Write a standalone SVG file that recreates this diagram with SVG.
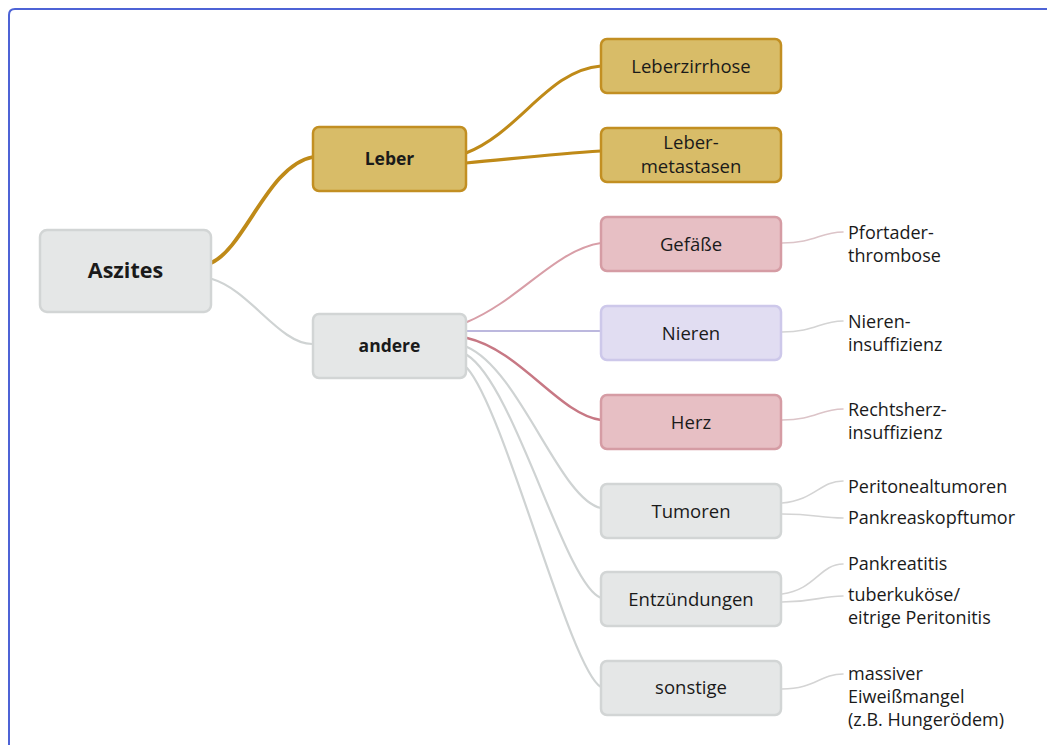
<svg xmlns="http://www.w3.org/2000/svg" width="1047" height="745" viewBox="0 0 1047 745">
<defs>
<style>
.box rect{stroke-width:2.5}
.gold rect{fill:#d8bc68;stroke:#c28f22}
.gray rect{fill:#e5e7e7;stroke:#d2d5d5}
.pink rect{fill:#e7bfc4;stroke:#d59ca4}
.lav rect{fill:#e1ddf2;stroke:#cdc8ea}
text{font-family:"Open Sans","Noto Sans","Liberation Sans",sans-serif;fill:#1a1a1a}
.b{font-weight:bold;text-anchor:middle}
.n{font-size:18.5px;text-anchor:middle}
.r{font-size:18px}
.c path{fill:none;stroke-linecap:round}
.cg{stroke:#bf8a18}
.cy{stroke:#cfd3d3;stroke-width:2.2}
.cp{stroke:#d89ea7;stroke-width:2}
.cr{stroke:#c77884;stroke-width:2.4}
.cl{stroke:#bcb8de;stroke-width:1.8}
.cs{stroke:#d4d4d4;stroke-width:1.6}
.csp{stroke:#dcc4c8;stroke-width:1.6}
</style>
</defs>
<rect x="0" y="0" width="1047" height="745" fill="#ffffff"/>
<path d="M9,745 L9,15 Q9,9 15,9 L1047,9" fill="none" stroke="#4d63d6" stroke-width="2"/>
<g id="connectors" class="c">
<path class="cg" d="M211,263 C245,248 268,165 313,157" stroke-width="3.8"/>
<path class="cy" d="M212,279 C250,290 280,345 313,344" stroke-width="2.6"/>
<path class="cg" d="M466,153 C520,132 548,70 601,66" stroke-width="3"/>
<path class="cg" d="M466,163 C520,158 555,154 601,151" stroke-width="3.2"/>
<path class="cp" d="M467,322 C520,300 555,250 601,243"/>
<path class="cl" d="M467,331 L601,331"/>
<path class="cr" d="M467,338 C520,350 560,415 601,420"/>
<path class="cy" d="M467,347 C520,370 560,500 601,508"/>
<path class="cy" d="M467,355 C515,385 565,585 601,598"/>
<path class="cy" d="M467,368 C505,410 570,670 601,687"/>
<path class="csp" d="M782,243 C815,243 820,232 843,232"/>
<path class="cs" d="M782,332 C815,332 820,321 843,321"/>
<path class="csp" d="M782,420 C815,420 820,409 843,409"/>
<path class="cs" d="M782,503 C815,500 820,481 843,481"/>
<path class="cs" d="M782,514 C815,514 820,518 843,518"/>
<path class="cs" d="M782,594 C815,590 820,564 843,564"/>
<path class="cs" d="M782,602 C815,602 820,596 843,596"/>
<path class="cs" d="M782,689 C815,689 820,674 843,674"/>
</g>
<g id="aszites" class="box gray"><rect x="40" y="230" width="171" height="82" rx="7"/><text class="b" x="125.5" y="278" font-size="21.5">Aszites</text></g>
<g id="leber" class="box gold"><rect x="313" y="127" width="153" height="64" rx="6"/><text class="b" x="389.5" y="165" font-size="17.5">Leber</text></g>
<g id="andere" class="box gray"><rect x="313" y="314" width="153" height="64" rx="6"/><text class="b" x="389.5" y="352" font-size="17.5">andere</text></g>
<g id="leberzirrhose" class="box gold"><rect x="601" y="39" width="180" height="54" rx="6"/><text class="n" x="691" y="73">Leberzirrhose</text></g>
<g id="lebermetastasen" class="box gold"><rect x="601" y="128" width="180" height="54" rx="6"/><text class="n" x="691" y="149" font-size="17.5">Leber-</text><text class="n" x="691" y="173" font-size="17.5">metastasen</text></g>
<g id="gefaesse" class="box pink"><rect x="601" y="217" width="180" height="54" rx="6"/><text class="n" x="691" y="250.5">Gefäße</text></g>
<g id="nieren" class="box lav"><rect x="601" y="306" width="180" height="54" rx="6"/><text class="n" x="691" y="339.5">Nieren</text></g>
<g id="herz" class="box pink"><rect x="601" y="395" width="180" height="54" rx="6"/><text class="n" x="691" y="428.5">Herz</text></g>
<g id="tumoren" class="box gray"><rect x="601" y="484" width="180" height="54" rx="6"/><text class="n" x="691" y="517.5">Tumoren</text></g>
<g id="entzuendungen" class="box gray"><rect x="601" y="572" width="180" height="54" rx="6"/><text class="n" x="691" y="605.5">Entzündungen</text></g>
<g id="sonstige" class="box gray"><rect x="601" y="661" width="180" height="54" rx="6"/><text class="n" x="691" y="694">sonstige</text></g>
<g id="pfortader"><text class="r" x="848" y="239">Pfortader-</text><text class="r" x="848" y="262">thrombose</text></g>
<g id="niereninsuffizienz"><text class="r" x="848" y="328">Nieren-</text><text class="r" x="848" y="351">insuffizienz</text></g>
<g id="rechtsherz"><text class="r" x="848" y="416">Rechtsherz-</text><text class="r" x="848" y="439">insuffizienz</text></g>
<g id="peritonealtumoren"><text class="r" x="848" y="493">Peritonealtumoren</text></g>
<g id="pankreaskopftumor"><text class="r" x="848" y="524">Pankreaskopftumor</text></g>
<g id="pankreatitis"><text class="r" x="848" y="570">Pankreatitis</text></g>
<g id="peritonitis"><text class="r" x="848" y="601">tuberkuköse/</text><text class="r" x="848" y="624">eitrige Peritonitis</text></g>
<g id="eiweiss"><text class="r" x="848" y="680">massiver</text><text class="r" x="848" y="703">Eiweißmangel</text><text class="r" x="848" y="726">(z.B. Hungerödem)</text></g>
</svg>
